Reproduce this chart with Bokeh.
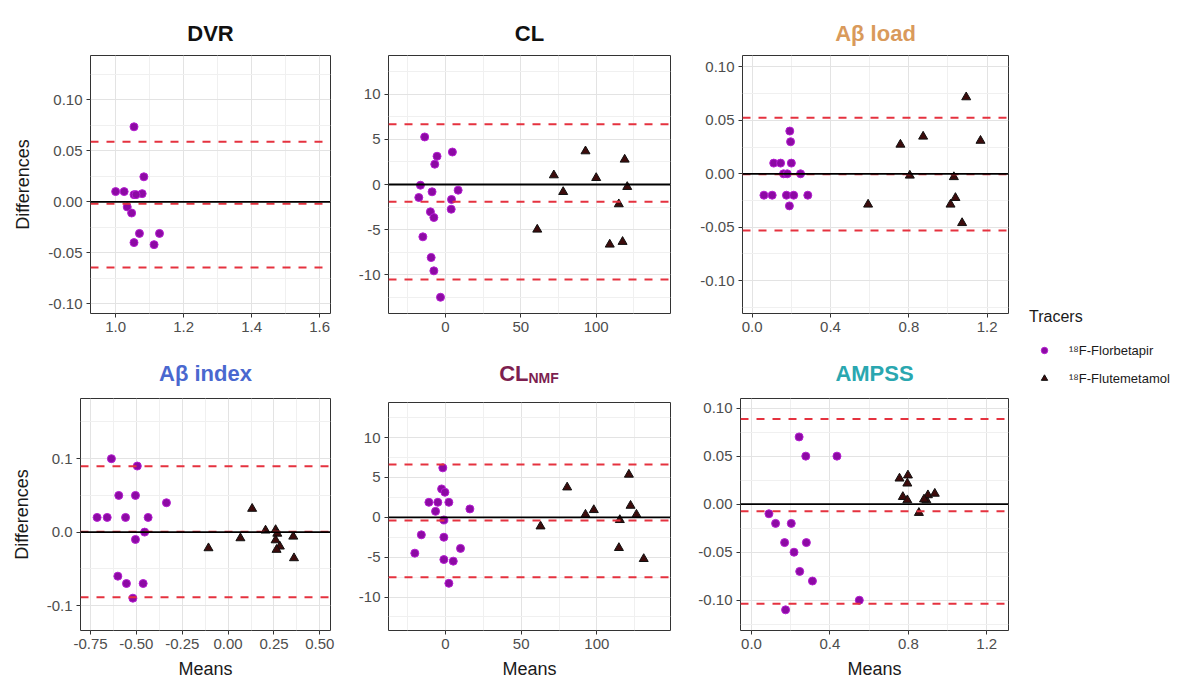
from bokeh.plotting import figure
from bokeh.layouts import row, column
from bokeh.models import (Range1d, FixedTicker, NumeralTickFormatter, Span, Label,
                          Legend, LegendItem)
from bokeh.embed import file_html
from bokeh.resources import INLINE

# ---------------- data ----------------
# DVR
dvr_flor_x = [1.054, 1.000, 1.025, 1.054, 1.078, 1.083, 1.034, 1.047, 1.070, 1.054, 1.113, 1.129, 1.060]
dvr_flor_y = [0.0735, 0.010, 0.010, 0.007, 0.008, 0.0245, -0.005, -0.011, -0.031, -0.040, -0.042, -0.031, 0.007]
dvr_flut_x = []
dvr_flut_y = []
dvr_lines = [0.0588, -0.002, -0.0644]

# CL
cl_flor_x = [-13.8, -5.6, -7.1, 4.6, -16.6, -17.7, -8.9, 8.4, 4.0, 3.8, -10.0, -7.7, -15.0, -9.5, -7.7, -3.3]
cl_flor_y = [5.27, 3.13, 2.25, 3.6, -0.08, -1.44, -0.81, -0.63, -1.66, -2.74, -3.03, -3.66, -5.8, -8.1, -9.57, -12.5]
cl_flut_x = [60.9, 71.9, 78.1, 92.9, 100.0, 109.0, 115.0, 117.5, 118.9, 120.6]
cl_flut_y = [-4.99, 1.03, -0.82, 3.69, 0.73, -6.65, -2.18, -6.35, 2.77, -0.26]
cl_lines = [6.68, -1.92, -10.52]

# Abeta load
load_flor_x = [0.192, 0.196, 0.110, 0.145, 0.200, 0.160, 0.179, 0.247, 0.060, 0.102, 0.175, 0.212, 0.284, 0.190]
load_flor_y = [0.04, 0.03, 0.01, 0.01, 0.01, 0.0, 0.0, 0.0, -0.02, -0.02, -0.02, -0.02, -0.02, -0.03]
load_flut_x = [0.592, 0.757, 0.805, 0.873, 1.013, 1.030, 1.038, 1.072, 1.093, 1.166]
load_flut_y = [-0.0287, 0.0274, -0.0016, 0.0349, -0.0287, -0.003, -0.0225, -0.046, 0.0717, 0.031]
load_lines = [0.0524, -0.0003, -0.053]

# Abeta index
idx_flor_x = [-0.636, -0.495, -0.596, -0.505, -0.336, -0.714, -0.659, -0.559, -0.436, -0.455, -0.505, -0.601, -0.554, -0.463, -0.519]
idx_flor_y = [0.10, 0.09, 0.05, 0.05, 0.04, 0.02, 0.02, 0.02, 0.02, 0.0, -0.01, -0.06, -0.07, -0.07, -0.09]
idx_flut_x = [-0.107, 0.067, 0.131, 0.204, 0.259, 0.268, 0.259, 0.282, 0.264, 0.355, 0.359]
idx_flut_y = [-0.0218, -0.0082, 0.0319, 0.0023, 0.003, -0.002, -0.011, -0.0195, -0.024, -0.006, -0.0354]
idx_lines = [0.0896, 0.0005, -0.0887]

# CL NMF
nmf_flor_x = [-1.8, -2.6, -0.4, -11.0, -5.1, 2.2, -6.6, 16.1, -1.1, -16.0, -1.1, 9.9, -20.3, -1.1, 5.1, 2.2]
nmf_flor_y = [6.2, 3.56, 3.14, 1.88, 1.88, 1.88, 0.75, 1.05, -0.33, -2.2, -2.5, -3.9, -4.5, -5.3, -5.5, -8.28]
nmf_flut_x = [62.8, 80.4, 92.5, 98.0, 115.2, 114.6, 121.2, 122.3, 126.2, 131.0]
nmf_flut_y = [-1.13, 3.76, 0.34, 0.92, -0.33, -3.84, 5.36, 1.46, 0.34, -5.22]
nmf_lines = [6.61, -0.41, -7.53]

# AMPSS
amp_flor_x = [0.243, 0.277, 0.436, 0.089, 0.123, 0.203, 0.169, 0.280, 0.217, 0.246, 0.311, 0.550, 0.174]
amp_flor_y = [0.07, 0.05, 0.05, -0.01, -0.02, -0.02, -0.04, -0.04, -0.05, -0.07, -0.08, -0.10, -0.11]
amp_flut_x = [0.755, 0.798, 0.795, 0.772, 0.795, 0.854, 0.892, 0.900, 0.935, 0.880]
amp_flut_y = [0.0268, 0.030, 0.0216, 0.0076, 0.0042, -0.009, 0.0042, 0.0094, 0.011, 0.005]
amp_lines = [0.0887, -0.0073, -0.1037]

tracer_labels = ["\u00b9\u2078F-Florbetapir", "\u00b9\u2078F-Flutemetamol"]

# ---------------- style ----------------
FONT = "Liberation Sans"
PURPLE_FILL = "#8c0aa3"
PURPLE_LINE = "#b51ed2"
TRI_FILL = "#3d0c0c"
TRI_LINE = "#111111"
RED = "#e5323f"


def header(width, height, fw, title, tcolor, ty, sub=None):
    # the header's frame is aligned by the column with the panel frame below it
    h = figure(width=width, height=height, output_backend="svg", toolbar_location=None,
               x_range=Range1d(0, 1), y_range=Range1d(0, 1), min_border=0)
    h.axis.visible = False
    h.grid.visible = False
    h.outline_line_color = None
    cx = fw / 2
    if sub is None:
        h.add_layout(Label(x=cx, y=ty, x_units="screen", y_units="screen", text=title,
                           text_font=FONT, text_font_size="22px", text_font_style="bold",
                           text_color=tcolor, text_align="center", text_baseline="middle"))
    else:
        h.add_layout(Label(x=cx - 1, y=ty, x_units="screen", y_units="screen", text=title,
                           text_font=FONT, text_font_size="22px", text_font_style="bold",
                           text_color=tcolor, text_align="right", text_baseline="alphabetic"))
        h.add_layout(Label(x=cx - 1, y=ty - 4, x_units="screen", y_units="screen", text=sub,
                           text_font=FONT, text_font_size="14px", text_font_style="bold",
                           text_color=tcolor, text_align="left", text_baseline="alphabetic"))
    return h


def panel(xr, yr, xt, xm, yt, ym, xfmt, yfmt,
          fx, fy, tx, ty, lines, width, height, bl, br, bt, bb,
          ylabel=False, xlabel=False):
    p = figure(width=width, height=height, output_backend="svg", toolbar_location=None,
               x_range=Range1d(*xr), y_range=Range1d(*yr),
               min_border_left=bl, min_border_right=br, min_border_top=bt, min_border_bottom=bb)
    p.background_fill_color = "white"
    p.border_fill_color = "white"
    p.outline_line_color = "#333333"
    p.outline_line_width = 1
    p.xaxis.ticker = FixedTicker(ticks=xt, minor_ticks=xm)
    p.yaxis.ticker = FixedTicker(ticks=yt, minor_ticks=ym)
    p.xaxis.formatter = NumeralTickFormatter(format=xfmt)
    p.yaxis.formatter = NumeralTickFormatter(format=yfmt)
    for ax in (p.xaxis, p.yaxis):
        ax.axis_line_color = None
        ax.major_tick_line_color = "#333333"
        ax.major_tick_in = 0
        ax.major_tick_out = 4
        ax.minor_tick_line_color = None
        ax.major_label_text_font = FONT
        ax.major_label_text_font_size = "15px"
        ax.major_label_text_color = "#4d4d4d"
        ax.axis_label_text_font = FONT
        ax.axis_label_text_font_size = "18px"
        ax.axis_label_text_font_style = "normal"
        ax.axis_label_text_color = "#1a1a1a"
    p.xaxis.major_label_standoff = 4
    p.yaxis.major_label_standoff = 4
    if ylabel:
        p.yaxis.axis_label = "Differences"
        p.yaxis.axis_label_standoff = 12
    if xlabel:
        p.xaxis.axis_label = "Means"
        p.xaxis.axis_label_standoff = 7
    for g in (p.xgrid, p.ygrid):
        g.grid_line_color = "#e3e3e3"
        g.grid_line_width = 1
        g.minor_grid_line_color = "#f0f0f0"
        g.minor_grid_line_width = 1

    # bias / limits of agreement
    p.add_layout(Span(location=lines[0], dimension="width", line_color=RED, line_dash="8 8", line_width=2))
    p.add_layout(Span(location=lines[2], dimension="width", line_color=RED, line_dash="8 8", line_width=2))
    p.add_layout(Span(location=lines[1], dimension="width", line_color=RED, line_dash="8 8", line_width=2))
    p.add_layout(Span(location=0, dimension="width", line_color="black", line_width=1.8))

    p.scatter(fx, fy, marker="circle", size=8, fill_color=PURPLE_FILL, line_color=PURPLE_LINE, line_width=1)
    if len(tx):
        p.scatter(tx, ty, marker="triangle", size=9, fill_color=TRI_FILL, line_color=TRI_LINE, line_width=1)
    return p


y_small = [-0.1, -0.05, 0.0, 0.05, 0.1]
y_small_m = [-0.125, -0.075, -0.025, 0.025, 0.075, 0.125]
x_m = [0.0, 0.4, 0.8, 1.2]
x_m_minor = [0.2, 0.6, 1.0]
cl_x = [0, 50, 100]
cl_xm = [-25, 25, 75, 125]
cl_y = [-10, -5, 0, 5, 10]
cl_ym = [-12.5, -7.5, -2.5, 2.5, 7.5, 12.5]

HH1, HP1 = 47, 295   # row 1: header, plot heights
HH2, HP2 = 48, 296   # row 2

f1 = panel((0.926, 1.632), (-0.1095, 0.1434),
           [1.0, 1.2, 1.4, 1.6], [1.1, 1.3, 1.5], y_small, y_small_m, "0.0", "0.00",
           dvr_flor_x, dvr_flor_y, dvr_flut_x, dvr_flut_y, dvr_lines,
           340, HP1, 90, 10, 8, 29, ylabel=True)
h1 = header(340, HH1, 240, "DVR", "#111111", 14)
f2 = panel((-37.8, 149.3), (-14.3, 14.3),
           cl_x, cl_xm, cl_y, cl_ym, "0", "0",
           cl_flor_x, cl_flor_y, cl_flut_x, cl_flut_y, cl_lines,
           340, HP1, 48, 10, 8, 29)
h2 = header(340, HH1, 282, "CL", "#111111", 14)
f3 = panel((-0.0495, 1.309), (-0.1307, 0.1107),
           x_m, x_m_minor, y_small, y_small_m, "0.0", "0.00",
           load_flor_x, load_flor_y, load_flut_x, load_flut_y, load_lines,
           336, HP1, 62, 8, 8, 29)
h3 = header(336, HH1, 266, "A\u03b2 load", "#d99a5b", 14)
f4 = panel((-0.8045, 0.558), (-0.134, 0.182),
           [-0.75, -0.5, -0.25, 0.0, 0.25, 0.5], [-0.625, -0.375, -0.125, 0.125, 0.375],
           [-0.1, 0.0, 0.1], [-0.05, 0.05, 0.15], "0.00", "0.0",
           idx_flor_x, idx_flor_y, idx_flut_x, idx_flut_y, idx_lines,
           340, HP2, 80, 10, 8, 56, ylabel=True, xlabel=True)
h4 = header(340, HH2, 250, "A\u03b2 index", "#4a68cf", 17)
f5 = panel((-37.7, 148.7), (-14.2, 14.4),
           cl_x, cl_xm, cl_y, cl_ym, "0", "0",
           nmf_flor_x, nmf_flor_y, nmf_flut_x, nmf_flut_y, nmf_lines,
           340, HP2 - 4, 48, 10, 8, 56, xlabel=True)
h5 = header(340, HH2 + 4, 282, "CL", "#7d1f50", 21, sub="NMF")
f6 = panel((-0.056, 1.311), (-0.1315, 0.110),
           x_m, x_m_minor, y_small, y_small_m, "0.0", "0.00",
           amp_flor_x, amp_flor_y, amp_flut_x, amp_flut_y, amp_lines,
           336, HP2, 60, 8, 8, 56, xlabel=True)
h6 = header(336, HH2, 268, "AMPSS", "#2aa7b0", 17)

TOTAL_H = HH1 + HP1 + HH2 + HP2

# legend panel: renderers carry the tracer data, the view range keeps them out of sight
lg = figure(width=170, height=TOTAL_H, output_backend="svg", toolbar_location=None,
            x_range=Range1d(10, 11), y_range=Range1d(10, 11), min_border=0)
lg.axis.visible = False
lg.grid.visible = False
lg.outline_line_color = None
r_c = lg.scatter(amp_flor_x, amp_flor_y, marker="circle", size=7, fill_color=PURPLE_FILL, line_color=PURPLE_LINE)
r_t = lg.scatter(amp_flut_x, amp_flut_y, marker="triangle", size=7, fill_color=TRI_FILL, line_color=TRI_LINE)
legend = Legend(items=[LegendItem(label=tracer_labels[0], renderers=[r_c]),
                       LegendItem(label=tracer_labels[1], renderers=[r_t])],
                location=(13, TOTAL_H - 386), title="Tracers")
legend.title_text_font = FONT
legend.title_text_font_size = "16px"
legend.title_text_font_style = "normal"
legend.title_text_color = "#1a1a1a"
legend.title_standoff = 16
legend.label_text_font = FONT
legend.label_text_font_size = "13px"
legend.label_text_color = "#1a1a1a"
legend.label_standoff = 10
legend.border_line_color = None
legend.background_fill_alpha = 0
legend.glyph_width = 30
legend.glyph_height = 16
legend.spacing = 12
legend.padding = 6
lg.add_layout(legend)

layout = row(column(row(column(h1, f1), column(h2, f2), column(h3, f3)),
                    row(column(h4, f4), column(h5, f5), column(h6, f6))), lg)

open("out.html", "w").write(file_html(layout, INLINE))
